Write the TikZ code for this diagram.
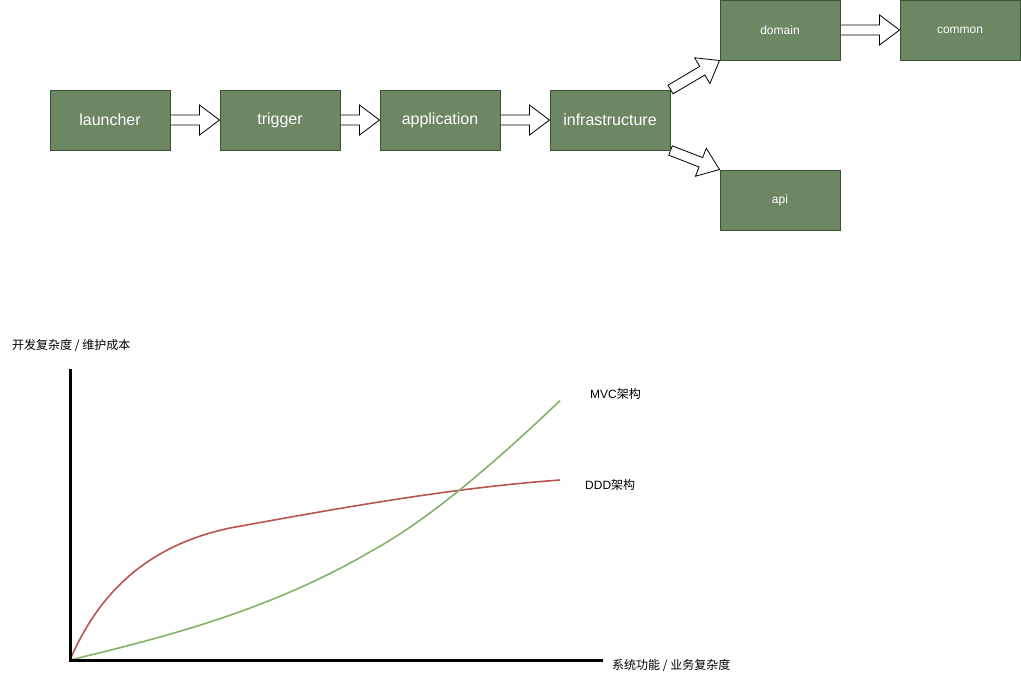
\documentclass[tikz,border=0pt]{standalone}
\usepackage{fontspec}
\setmainfont{Liberation Sans}
\newfontfamily\cjk{Noto Sans CJK SC}
\usetikzlibrary{calc}
\definecolor{boxfill}{HTML}{6D8764}
\definecolor{boxline}{HTML}{3A5431}
\definecolor{ddd}{HTML}{B85450}
\definecolor{mvc}{HTML}{82B366}
\pgfdeclarelayer{bg}
\pgfsetlayers{bg,main}
\tikzset{
  modbox/.style={draw=boxline, fill=boxfill, line width=1pt, minimum width=120pt, minimum height=60pt, inner sep=0pt, text=white, font=\fontsize{16}{18}\selectfont},
  smallbox/.style={modbox, font=\fontsize{12}{14}\selectfont},
  flexarrow/.style={draw=black, fill=white, line width=0.8pt, line join=miter},
  axisline/.style={draw=black, line width=3pt},
  curveline/.style={line width=1.6pt},
  lbl/.style={anchor=west, inner sep=0pt, font=\fontsize{12}{14}\selectfont}
}
\newcommand\flexarr[2]{%
  \path (#1) coordinate (fa-s) (#2) coordinate (fa-e) ($(fa-e)!20pt!(fa-s)$) coordinate (fa-h);
  \draw[flexarrow] ($(fa-s)!5pt!90:(fa-e)$) -- ($(fa-h)!5pt!-90:(fa-s)$) -- ($(fa-h)!15pt!-90:(fa-s)$) -- (fa-e) -- ($(fa-h)!15pt!90:(fa-s)$) -- ($(fa-h)!5pt!90:(fa-s)$) -- ($(fa-s)!5pt!-90:(fa-e)$) -- cycle;
}
\begin{document}
\begin{tikzpicture}[x=1pt,y=-1pt]
\useasboundingbox (0,0) rectangle (1021,681);
% module boxes
\node[modbox] (launcher) at (110,120) {launcher};
\node[modbox] (trigger) at (280,120) {trigger};
\node[modbox] (application) at (440,120) {application};
\node[modbox] (infra) at (610,120) {infrastructure};
\node[smallbox] (domain) at (780,30) {domain};
\node[smallbox] (common) at (960,30) {common};
\node[smallbox] (api) at (780,200) {api};
% block arrows
\begin{pgfonlayer}{bg}
\flexarr{launcher.east}{trigger.west}
\flexarr{trigger.east}{application.west}
\flexarr{application.east}{infra.west}
\flexarr{infra.north east}{domain.south west}
\flexarr{infra.south east}{api.north west}
\flexarr{domain.east}{common.west}
\end{pgfonlayer}
% chart
\coordinate (origin) at (70,660);
\coordinate (ytop) at (70,369);
\coordinate (xend) at (603,660);
\coordinate (dddend) at (560,480);
\coordinate (mvcend) at (560,400.7);
\draw[curveline, ddd] (origin) .. controls (100,590) and (150,545) .. (230,528) .. controls (340,508) and (450,488) .. (dddend);
\draw[curveline, mvc] (origin) .. controls (170,636) and (273,609) .. (373.3,550) .. controls (433,517) and (500,457.7) .. (mvcend);
\draw[axisline] (ytop) -- (origin) -- (xend);
\node[lbl] (ylabel) at (12,345) {\cjk 开发复杂度 / 维护成本};
\node[lbl] (xlabel) at (612,665) {\cjk 系统功能 / 业务复杂度};
\node[lbl] (mvclabel) at (590,394) {MVC{\cjk 架构}};
\node[lbl] (dddlabel) at (585,485) {DDD{\cjk 架构}};
\end{tikzpicture}
\end{document}
